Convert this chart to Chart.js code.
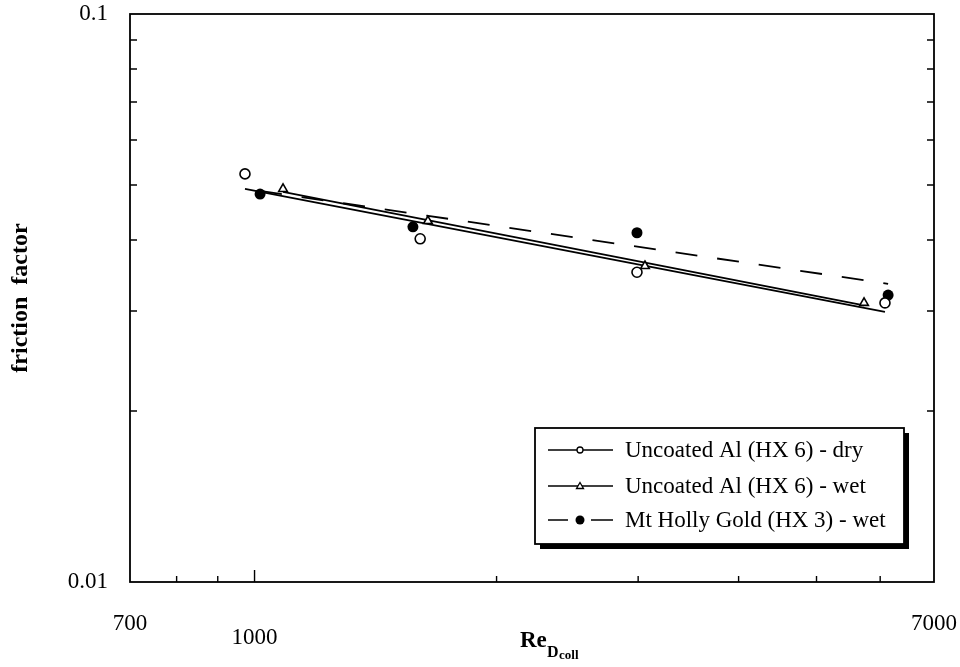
<!DOCTYPE html>
<html>
<head>
<meta charset="utf-8">
<script src="https://cdn.jsdelivr.net/npm/chart.js@4.4.1/dist/chart.umd.min.js"></script>
<style>
  body { margin: 0; background: #fff; }
  #wrap { width: 960px; height: 667px; position: relative; }
</style>
</head>
<body>
<div id="wrap"><canvas id="frictionChart"></canvas></div>
<script>
// measured points (Re, friction factor)
const reDry = [973, 1607, 2990, 6083];
const fDry = [0.0523, 0.0402, 0.0351, 0.0310];
const reWet = [1085, 1643, 3059, 5729];
const fWet = [0.0492, 0.0432, 0.0360, 0.0310];
const reGold = [1016, 1574, 2990, 6138];
const fGold = [0.0482, 0.0422, 0.0412, 0.0320];

// curve fits (end points)
const fitDryRe = [973, 6083];
const fitDryF = [0.0492, 0.0299];
const fitWetRe = [1085, 5729];
const fitWetF = [0.0486, 0.0307];
const fitGoldRe = [1016, 6138];
const fitGoldF = [0.0488, 0.0335];

// axis ticks
const xTicks = [700, 800, 900, 1000, 2000, 3000, 4000, 5000, 6000, 7000];
const xLabels = { 700: '700', 1000: ['', '1000'], 7000: '7000' };
const yTicks = [0.01, 0.02, 0.03, 0.04, 0.05, 0.06, 0.07, 0.08, 0.09, 0.1];
const yLabels = { 0.01: '0.01', 0.1: '0.1' };

const legendNames = ['Uncoated Al (HX 6) - dry', 'Uncoated Al (HX 6) - wet', 'Mt Holly Gold (HX 3) - wet'];

const SERIF = '"Liberation Serif", "Times New Roman", serif';

function pts(xs, ys) {
    return xs.map((x, i) => ({ x: x, y: ys[i] }));
}

// frame + inward tick marks + axis title with subscript
const framePlugin = {
    id: 'frame',
    beforeDatasetsDraw(chart) {
        const { ctx, chartArea: a, scales } = chart;
        ctx.save();
        ctx.strokeStyle = '#000';
        ctx.lineWidth = 1.8;
        ctx.strokeRect(a.left, a.top, a.right - a.left, a.bottom - a.top);
        ctx.lineWidth = 1.4;
        ctx.beginPath();
        xTicks.forEach(v => {
            if (v === 700 || v === 7000) return;
            const px = scales.x.getPixelForValue(v);
            const len = v === 1000 ? 12 : 6;
            ctx.moveTo(px, a.bottom);
            ctx.lineTo(px, a.bottom - len);
        });
        yTicks.forEach(v => {
            if (v === 0.01 || v === 0.1) return;
            const py = scales.y.getPixelForValue(v);
            ctx.moveTo(a.left, py);
            ctx.lineTo(a.left + 7, py);
            ctx.moveTo(a.right, py);
            ctx.lineTo(a.right - 7, py);
        });
        ctx.stroke();

        // x axis title Re_Dcoll
        ctx.fillStyle = '#000';
        ctx.textBaseline = 'alphabetic';
        ctx.textAlign = 'left';
        ctx.font = 'bold 23px ' + SERIF;
        ctx.fillText('Re', 520, 647);
        ctx.font = 'bold 16px ' + SERIF;
        ctx.fillText('D', 547, 657);
        ctx.font = 'bold 13px ' + SERIF;
        ctx.fillText('coll', 559, 659);
        ctx.restore();
    }
};

// boxed legend with drop shadow
const legendPlugin = {
    id: 'boxLegend',
    afterDraw(chart) {
        const ctx = chart.ctx;
        const bx = 535, by = 428, bw = 369, bh = 116;
        ctx.save();
        ctx.fillStyle = '#000';
        ctx.fillRect(bx + 5, by + 5, bw, bh);
        ctx.fillStyle = '#fff';
        ctx.fillRect(bx, by, bw, bh);
        ctx.strokeStyle = '#000';
        ctx.lineWidth = 1.8;
        ctx.strokeRect(bx, by, bw, bh);

        const rows = [450, 486, 520];
        const x0 = 548, x1 = 613, xm = 580;
        ctx.lineWidth = 1.3;
        rows.forEach((y, i) => {
            ctx.beginPath();
            if (i === 2) {
                ctx.moveTo(x0, y); ctx.lineTo(x0 + 20, y);
                ctx.moveTo(x1 - 22, y); ctx.lineTo(x1, y);
            } else {
                ctx.moveTo(x0, y); ctx.lineTo(x1, y);
            }
            ctx.stroke();
            ctx.beginPath();
            if (i === 0) {
                ctx.arc(xm, y, 3, 0, Math.PI * 2);
                ctx.fillStyle = '#fff'; ctx.fill(); ctx.stroke();
            } else if (i === 1) {
                ctx.moveTo(xm, y - 3.5);
                ctx.lineTo(xm + 3.5, y + 2.5);
                ctx.lineTo(xm - 3.5, y + 2.5);
                ctx.closePath();
                ctx.fillStyle = '#fff'; ctx.fill(); ctx.stroke();
            } else {
                ctx.arc(xm, y, 4.5, 0, Math.PI * 2);
                ctx.fillStyle = '#000'; ctx.fill();
            }
            ctx.fillStyle = '#000';
            ctx.font = '23px ' + SERIF;
            ctx.textBaseline = 'middle';
            ctx.textAlign = 'left';
            ctx.fillText(legendNames[i], 625, y + 1);
        });
        ctx.restore();
    }
};

const ctx = document.getElementById('frictionChart').getContext('2d');
new Chart(ctx, {
    type: 'scatter',
    data: {
        datasets: [
            {
                label: legendNames[0],
                data: pts(reDry, fDry),
                pointStyle: 'circle',
                pointRadius: 5,
                backgroundColor: '#fff',
                borderColor: '#000',
                borderWidth: 1.6,
                order: 1
            },
            {
                label: legendNames[1],
                data: pts(reWet, fWet),
                pointStyle: 'triangle',
                pointRadius: 5,
                backgroundColor: '#fff',
                borderColor: '#000',
                borderWidth: 1.6,
                order: 1
            },
            {
                label: legendNames[2],
                data: pts(reGold, fGold),
                pointStyle: 'circle',
                pointRadius: 5.5,
                backgroundColor: '#000',
                borderColor: '#000',
                borderWidth: 0,
                order: 1
            },
            {
                label: 'fit dry',
                data: pts(fitDryRe, fitDryF),
                showLine: true,
                pointRadius: 0,
                borderColor: '#000',
                borderWidth: 1.8,
                order: 2
            },
            {
                label: 'fit wet',
                data: pts(fitWetRe, fitWetF),
                showLine: true,
                pointRadius: 0,
                borderColor: '#000',
                borderWidth: 1.8,
                order: 2
            },
            {
                label: 'fit gold',
                data: pts(fitGoldRe, fitGoldF),
                showLine: true,
                pointRadius: 0,
                borderColor: '#000',
                borderWidth: 1.8,
                borderDash: [22, 20],
                order: 2
            }
        ]
    },
    options: {
        responsive: true,
        maintainAspectRatio: false,
        animation: false,
        layout: { padding: { top: 14, right: 26, left: 0, bottom: 0 } },
        plugins: {
            legend: { display: false },
            tooltip: { enabled: false }
        },
        scales: {
            x: {
                type: 'logarithmic',
                min: 700,
                max: 7000,
                afterBuildTicks: s => { s.ticks = xTicks.map(v => ({ value: v })); },
                afterFit: s => {
                    s.height = 85;
                    s.paddingLeft = 0;
                    s.paddingRight = 0;
                },
                grid: { display: false },
                border: { display: false },
                ticks: {
                    autoSkip: false,
                    maxRotation: 0,
                    padding: 26,
                    color: '#000',
                    font: { family: SERIF, size: 23, lineHeight: 0.65 },
                    callback: v => xLabels[v] || ''
                }
            },
            y: {
                type: 'logarithmic',
                min: 0.01,
                max: 0.1,
                afterBuildTicks: s => { s.ticks = yTicks.map(v => ({ value: v })); },
                afterFit: s => {
                    s.width = 130;
                    s.paddingTop = 0;
                    s.paddingBottom = 0;
                },
                grid: { display: false },
                border: { display: false },
                title: {
                    display: true,
                    text: 'friction  factor',
                    color: '#000',
                    font: { family: SERIF, size: 24, weight: 'bold' },
                    padding: { top: 6, bottom: 0 }
                },
                ticks: {
                    autoSkip: false,
                    padding: 14,
                    color: '#000',
                    font: { family: SERIF, size: 23 },
                    callback: v => yLabels[v] || ''
                }
            }
        }
    },
    plugins: [framePlugin, legendPlugin]
});
</script>
</body>
</html>
